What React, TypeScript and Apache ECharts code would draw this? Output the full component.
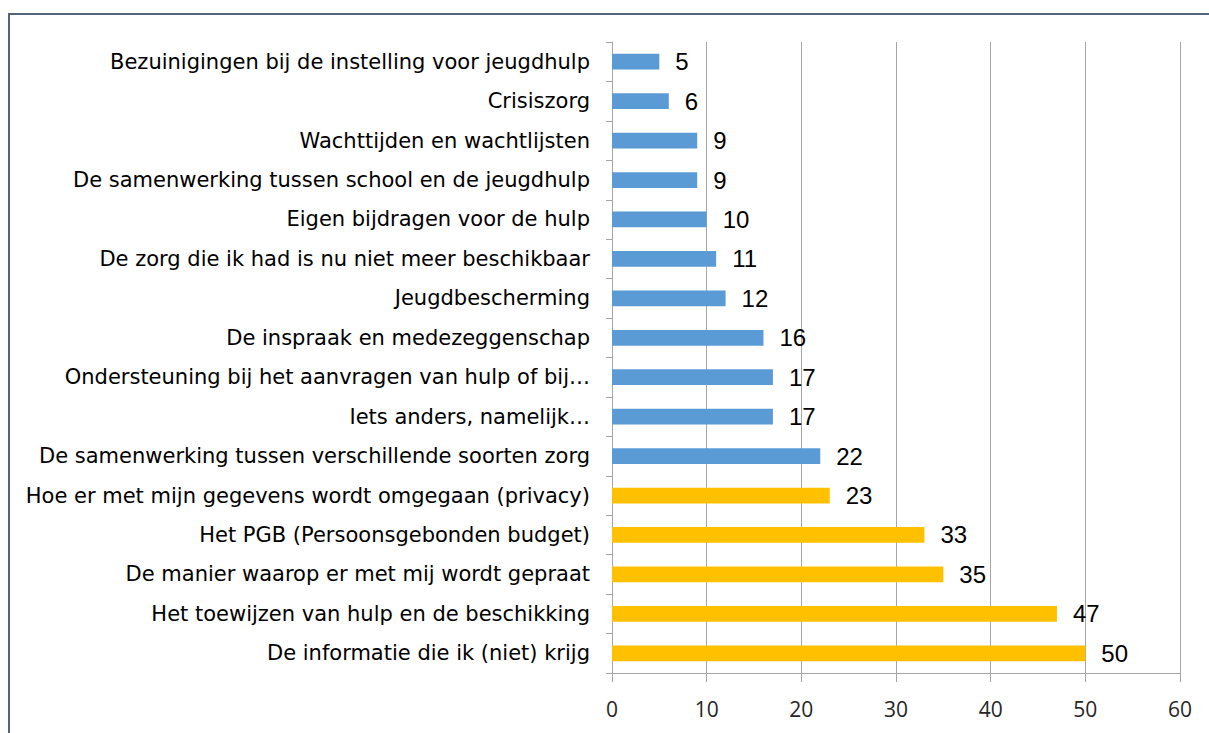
import React, { useEffect, useRef } from "react";
import * as echarts from "echarts";

const categories = [
  "Bezuinigingen bij de instelling voor jeugdhulp",
  "Crisiszorg",
  "Wachttijden en wachtlijsten",
  "De samenwerking tussen school en de jeugdhulp",
  "Eigen bijdragen voor de hulp",
  "De zorg die ik had is nu niet meer beschikbaar",
  "Jeugdbescherming",
  "De inspraak en medezeggenschap",
  "Ondersteuning bij het aanvragen van hulp of bij…",
  "Iets anders, namelijk…",
  "De samenwerking tussen verschillende soorten zorg",
  "Hoe er met mijn gegevens wordt omgegaan (privacy)",
  "Het PGB (Persoonsgebonden budget)",
  "De manier waarop er met mij wordt gepraat",
  "Het toewijzen van hulp en de beschikking",
  "De informatie die ik (niet) krijg",
];
const values = [5, 6, 9, 9, 10, 11, 12, 16, 17, 17, 22, 23, 33, 35, 47, 50];
const highlighted = [false, false, false, false, false, false, false, false, false, false, false, true, true, true, true, true];
const xTicks = [0, 10, 20, 30, 40, 50, 60];

const BLUE = "#5B9BD5";
const YELLOW = "#FFC000";

export default function App() {
  const ref = useRef<HTMLDivElement>(null);
  useEffect(() => {
    if (!ref.current) return;
    const chart = echarts.init(ref.current, undefined, { renderer: "svg" });
    chart.setOption({
      animation: false,
      backgroundColor: "#ffffff",
      graphic: [
        {
          type: "rect",
          shape: { x: 9, y: 14, width: 1400, height: 900 },
          style: { fill: "none", stroke: "#56637a", lineWidth: 2 },
          silent: true,
        },
      ],
      grid: { left: 612, right: 29, top: 42, bottom: 60, containLabel: false },
      xAxis: {
        type: "value",
        min: xTicks[0],
        max: xTicks[xTicks.length - 1],
        interval: 10,
        axisLine: { show: true, lineStyle: { color: "#a6a6a6", width: 1 } },
        axisTick: { show: true, length: 9, lineStyle: { color: "#a6a6a6" } },
        splitLine: { show: true, lineStyle: { color: "#a6a6a6", width: 1 } },
        axisLabel: {
          margin: 25,
          fontSize: 21,
          color: "#262626",
          fontFamily: "Open Sans, Liberation Sans, sans-serif",
        },
      },
      yAxis: {
        type: "category",
        data: categories,
        inverse: true,
        axisLine: { show: true, lineStyle: { color: "#a6a6a6", width: 1 } },
        axisTick: { show: true, length: 6, lineStyle: { color: "#a6a6a6" } },
        axisLabel: {
          margin: 22,
          fontSize: 21,
          color: "#000000",
          fontFamily: "DejaVu Sans, Liberation Sans, sans-serif",
        },
      },
      series: [
        {
          type: "bar",
          data: values.map((v, i) => ({
            value: v,
            itemStyle: { color: highlighted[i] ? YELLOW : BLUE },
          })),
          barCategoryGap: "60%",
          label: {
            show: true,
            position: "right",
            distance: 16,
            fontSize: 24,
            color: "#000000",
            fontFamily: "Liberation Sans, Arial, sans-serif",
          },
        },
      ],
    });
    return () => chart.dispose();
  }, []);
  return (
    <div
      ref={ref}
      style={{ position: "fixed", left: 0, top: 0, width: 1209, height: 733 }}
    />
  );
}
